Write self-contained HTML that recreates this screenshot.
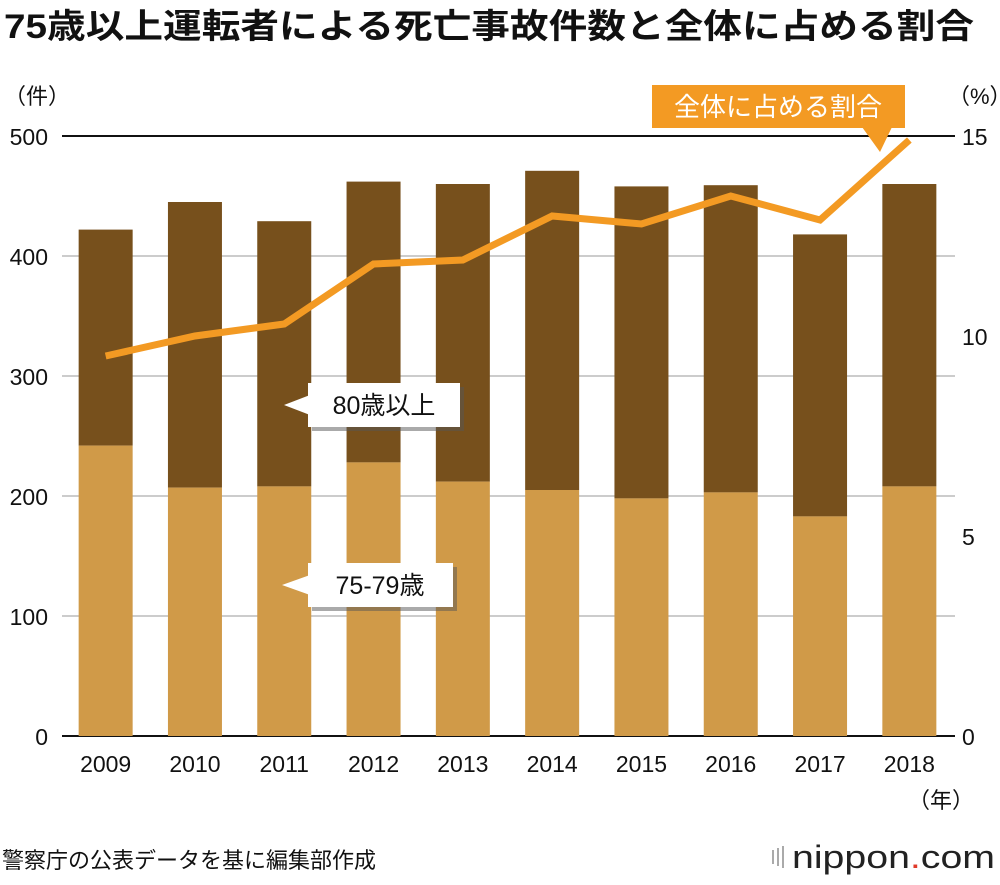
<!DOCTYPE html>
<html><head><meta charset="utf-8">
<style>
body{margin:0;background:#fff;width:1000px;height:880px;overflow:hidden;font-family:"Liberation Sans","Noto Sans CJK JP",sans-serif;}
svg text{font-family:"Liberation Sans","Noto Sans CJK JP",sans-serif;}
</style></head>
<body>
<svg id="chart" width="1000" height="880" xmlns="http://www.w3.org/2000/svg">
<text x="4" y="38" font-size="34" font-weight="bold" fill="#111" textLength="970" lengthAdjust="spacingAndGlyphs">75歳以上運転者による死亡事故件数と全体に占める割合</text>
<text x="4" y="104" font-size="22" fill="#111">（件）</text>
<text x="948" y="104" font-size="22" fill="#111">（%）</text>
<g id="grid"></g>
<g id="bars"></g>
<g id="line"></g>
<g id="ticks"></g>
<g>
<rect x="312" y="387" width="152" height="44" fill="#555" opacity="0.5"/>
<rect x="308" y="383" width="152" height="44" fill="#fff"/>
<polygon points="284,405 310,395 310,415" fill="#fff"/>
<text x="384" y="414" font-size="25" text-anchor="middle" fill="#111">80歳以上</text>
</g>
<g>
<rect x="312" y="567" width="145" height="44" fill="#555" opacity="0.5"/>
<rect x="308" y="563" width="145" height="44" fill="#fff"/>
<polygon points="282,585 310,575 310,595" fill="#fff"/>
<text x="380" y="594" font-size="25" text-anchor="middle" fill="#111">75-79歳</text>
</g>
<g>
<rect x="652" y="85" width="253" height="43" fill="#f39a23"/>
<polygon points="862,127 892,127 880,152" fill="#f39a23"/>
<text x="778" y="116" font-size="26" text-anchor="middle" fill="#fff">全体に占める割合</text>
</g>
<text x="908" y="808" font-size="22" fill="#111">（年）</text>
<text x="2" y="868" font-size="22" fill="#111">警察庁の公表データを基に編集部作成</text>
<g>
<rect x="772" y="850" width="2" height="14" fill="#aaa"/><rect x="777" y="848" width="2" height="18" fill="#aaa"/><rect x="782" y="846" width="2" height="22" fill="#aaa"/>
<text x="792" y="868" font-size="32" fill="#222" textLength="203" lengthAdjust="spacingAndGlyphs">nippon<tspan fill="#e03a2a">.</tspan>com</text>
</g>
</svg>
<script>
const years=["2009","2010","2011","2012","2013","2014","2015","2016","2017","2018"];
const under80=[242,207,208,228,212,205,198,203,183,208];
const total=[422,445,429,462,460,471,458,459,418,460];
const share=[9.5,10.0,10.3,11.8,11.9,13.0,12.8,13.5,12.9,14.9];
const leftTicks=[0,100,200,300,400,500];
const rightTicks=[0,5,10,15];
const NS="http://www.w3.org/2000/svg";
const y0=736,y1=136,x0=62,x1=955;
const yL=v=>y0-(v/500)*(y0-y1);
const yR=v=>y0-(v/15)*(y0-y1);
const step=(x1-x0)/years.length;
const xC=i=>x0+step*(i+0.5)-1;
const bw=54;
function mk(t,a,p){const e=document.createElementNS(NS,t);for(const k in a)e.setAttribute(k,a[k]);p.appendChild(e);return e;}
const g=document.getElementById('grid'),b=document.getElementById('bars'),l=document.getElementById('line'),tk=document.getElementById('ticks');
leftTicks.forEach(v=>{
 const ln=mk('line',{x1:x0,x2:x1,y1:yL(v),y2:yL(v),stroke:(v===0||v===500)?'#111':'#bbb','stroke-width':(v===0||v===500)?2:1.5},g);
 
 
 const t=mk('text',{x:48,y:yL(v)+9,'font-size':23,'text-anchor':'end',fill:'#111'},tk);t.textContent=v;
 
 
});
rightTicks.forEach(v=>{
 const t=mk('text',{x:962,y:yR(v)+9,'font-size':23,fill:'#111'},tk);t.textContent=v;
 
 
});
years.forEach((yr,i)=>{
 const x=xC(i)-bw/2;
 const r1=mk('rect',{x:x,y:yL(total[i]),width:bw,height:yL(under80[i])-yL(total[i]),fill:'#77501c'},b);
 
 
 const r2=mk('rect',{x:x,y:yL(under80[i]),width:bw,height:y0-yL(under80[i]),fill:'#d09a48'},b);
 
 
 const t=mk('text',{x:xC(i),y:772,'font-size':23,'text-anchor':'middle',fill:'#111'},tk);t.textContent=yr;
 
 
});
const pts=share.map((v,i)=>xC(i)+','+yR(v)).join(' ');
const pl=mk('polyline',{points:pts,fill:'none',stroke:'#f39a23','stroke-width':7,'stroke-linejoin':'miter'},l);


</script>
</body></html>
